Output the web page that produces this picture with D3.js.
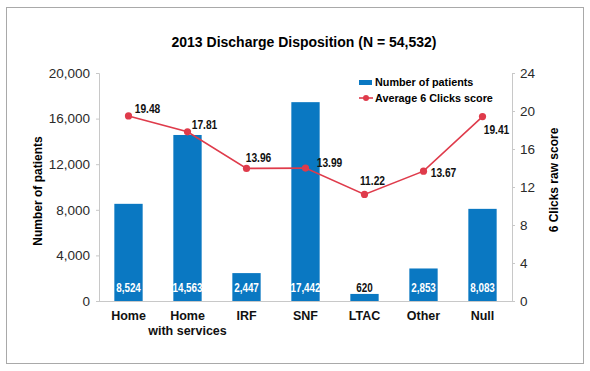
<!DOCTYPE html>
<html>
<head>
<meta charset="utf-8">
<script src="https://cdn.jsdelivr.net/npm/d3@7"></script>
<style>
  body { margin: 0; background: #fff; }
  svg { display: block; }
</style>
</head>
<body>
<div id="chart"></div>
<script>
var categories = ['Home', 'Home\nwith services', 'IRF', 'SNF', 'LTAC', 'Other', 'Null'];
var patients = [8524, 14563, 2447, 17442, 620, 2853, 8083];
var scores = [19.48, 17.81, 13.96, 13.99, 11.22, 13.67, 19.41];
var leftTicks = [0, 4000, 8000, 12000, 16000, 20000];
var rightTicks = [0, 4, 8, 12, 16, 20, 24];

var width = 590,
    height = 371;

var blue = '#0a78c2',
    red = '#df3b4b',
    axisGrey = '#c8c8c8';

var sans = '"Liberation Sans", Arial, sans-serif';
// squeeze factor to mimic the condensed number font
var squeeze = 0.76;

var svg = d3.select('#chart').append('svg')
    .attr('width', width)
    .attr('height', height);

// outer frame
svg.append('rect')
    .attr('x', 6.5).attr('y', 7.5)
    .attr('width', 577).attr('height', 356)
    .attr('fill', 'none')
    .attr('stroke', '#a9a9a9');

var plot = { left: 99, right: 512, top: 73, bottom: 301 };

var x = d3.scaleBand()
    .domain(categories)
    .range([plot.left, plot.right])
    .paddingInner(0.52)
    .paddingOuter(0.26);

var yL = d3.scaleLinear().domain([0, 20000]).range([plot.bottom, plot.top]);
var yR = d3.scaleLinear().domain([0, 24]).range([plot.bottom, plot.top]);

// title
svg.append('text')
    .attr('x', 304).attr('y', 47)
    .attr('text-anchor', 'middle')
    .attr('font-family', sans)
    .attr('font-weight', 'bold')
    .attr('font-size', 14)
    .text('2013 Discharge Disposition (N = 54,532)');

// axes
var leftAxis = svg.append('g')
    .attr('transform', 'translate(' + plot.left + ',0)')
    .call(d3.axisLeft(yL).tickValues(leftTicks).tickSize(3).tickPadding(6)
        .tickFormat(d3.format(',')));

var rightAxis = svg.append('g')
    .attr('transform', 'translate(' + plot.right + ',0)')
    .call(d3.axisRight(yR).tickValues(rightTicks).tickSize(3).tickPadding(5));

[leftAxis, rightAxis].forEach(function (a) {
    a.select('.domain').attr('stroke', axisGrey);
    a.selectAll('.tick line').attr('stroke', axisGrey);
    a.selectAll('.tick text')
        .attr('fill', '#2a2a2a')
        .attr('font-family', sans)
        .attr('font-size', 13.5);
});

// baseline
svg.append('line')
    .attr('x1', plot.left).attr('x2', plot.right)
    .attr('y1', plot.bottom + 0.5).attr('y2', plot.bottom + 0.5)
    .attr('stroke', axisGrey);

// axis titles
svg.append('text')
    .attr('transform', 'translate(42,' + 191 + ') rotate(-90)')
    .attr('text-anchor', 'middle')
    .attr('font-family', sans)
    .attr('font-weight', 'bold')
    .attr('font-size', 12)
    .text('Number of patients');

svg.append('text')
    .attr('transform', 'translate(558,' + 180 + ') rotate(-90)')
    .attr('text-anchor', 'middle')
    .attr('font-family', sans)
    .attr('font-weight', 'bold')
    .attr('font-size', 12)
    .text('6 Clicks raw score');

// bars
svg.selectAll('.bar')
    .data(patients)
    .enter().append('rect')
    .attr('class', 'bar')
    .attr('x', function (d, i) { return x(categories[i]); })
    .attr('y', function (d) { return yL(d); })
    .attr('width', x.bandwidth())
    .attr('height', function (d) { return plot.bottom - yL(d); })
    .attr('fill', blue);

// bar value labels
svg.selectAll('.barlabel')
    .data(patients)
    .enter().append('text')
    .attr('class', 'barlabel')
    .attr('transform', function (d, i) {
        return 'translate(' + (x(categories[i]) + x.bandwidth() / 2) + ',292) scale(' + squeeze + ',1)';
    })
    .attr('text-anchor', 'middle')
    .attr('font-family', sans)
    .attr('font-weight', 'bold')
    .attr('font-size', 13)
    .attr('fill', function (d) { return yL(d) < 280 ? '#fff' : '#111'; })
    .text(d3.format(','));

// category labels
svg.selectAll('.cat')
    .data(categories)
    .enter().append('text')
    .attr('class', 'cat')
    .attr('x', function (d) { return x(d) + x.bandwidth() / 2; })
    .attr('y', 320)
    .attr('text-anchor', 'middle')
    .attr('font-family', sans)
    .attr('font-weight', 'bold')
    .attr('font-size', 12.5)
    .attr('fill', '#111')
    .each(function (d) {
        var t = d3.select(this);
        d.split('\n').forEach(function (part, k) {
            t.append('tspan')
                .attr('x', t.attr('x'))
                .attr('dy', k === 0 ? 0 : 15)
                .text(part);
        });
    });

// score line
var cx = function (i) { return x(categories[i]) + x.bandwidth() / 2; };
var line = d3.line()
    .x(function (d, i) { return cx(i); })
    .y(function (d) { return yR(d); });

svg.append('path')
    .datum(scores)
    .attr('d', line)
    .attr('fill', 'none')
    .attr('stroke', red)
    .attr('stroke-width', 1.6);

svg.selectAll('.pt')
    .data(scores)
    .enter().append('circle')
    .attr('class', 'pt')
    .attr('cx', function (d, i) { return cx(i); })
    .attr('cy', function (d) { return yR(d); })
    .attr('r', 3.6)
    .attr('fill', red);

// score labels, centre offset from each point (baseline)
var labelOffsets = [[19, -3], [17, -3], [12, -6], [24, -1], [8, -9], [20, 6], [14, 17]];
svg.selectAll('.ptlabel')
    .data(scores)
    .enter().append('text')
    .attr('class', 'ptlabel')
    .attr('transform', function (d, i) {
        return 'translate(' + (cx(i) + labelOffsets[i][0]) + ',' + (yR(d) + labelOffsets[i][1]) +
            ') scale(' + squeeze + ',1)';
    })
    .attr('text-anchor', 'middle')
    .attr('font-family', sans)
    .attr('font-weight', 'bold')
    .attr('font-size', 13.5)
    .attr('fill', '#111')
    .text(d3.format('.2f'));

// legend
var legend = svg.append('g').attr('font-family', sans).attr('font-weight', 'bold').attr('font-size', 10.8);
legend.append('rect')
    .attr('x', 359).attr('y', 80)
    .attr('width', 13).attr('height', 5)
    .attr('fill', blue);
legend.append('text')
    .attr('x', 375).attr('y', 86)
    .text('Number of patients');
legend.append('line')
    .attr('x1', 359).attr('x2', 373)
    .attr('y1', 98).attr('y2', 98)
    .attr('stroke', red).attr('stroke-width', 1.6);
legend.append('circle')
    .attr('cx', 366).attr('cy', 98).attr('r', 3)
    .attr('fill', red);
legend.append('text')
    .attr('x', 375).attr('y', 102)
    .text('Average 6 Clicks score');
</script>
</body>
</html>
